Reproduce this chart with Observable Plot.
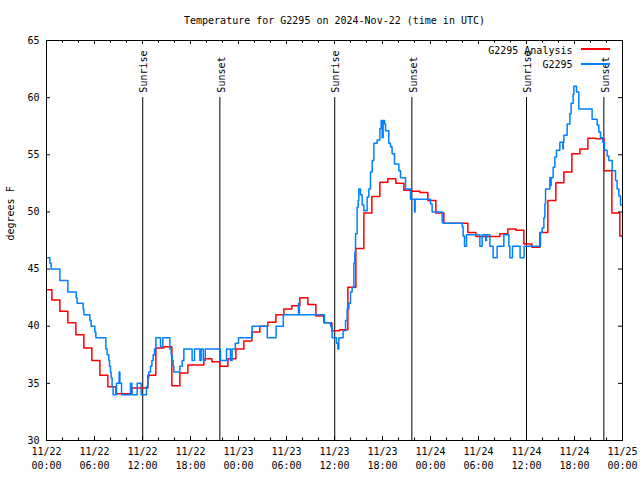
<!DOCTYPE html>
<html><head><meta charset="utf-8">
<script src="https://cdn.jsdelivr.net/npm/d3@7"></script>
<script src="https://cdn.jsdelivr.net/npm/@observablehq/plot@0.6"></script>
<style>
body{margin:0;background:#fff;}
#wrap{position:relative;width:640px;height:480px;}
.key{position:absolute;left:581px;width:29px;height:1.5px;z-index:2;}
</style></head><body>
<div id="wrap"></div>
<script>
const chartTitle = "Temperature for G2295 on 2024-Nov-22 (time in UTC)";
const yLabel = "degrees F";
const seriesNames = ["G2295 Analysis", "G2295"];
const seriesColors = ["#ff0000", "#0080ff"];

const xTickHours = [0, 6, 12, 18, 24, 30, 36, 42, 48, 54, 60, 66, 72];
const xTickDates = ["11/22","11/22","11/22","11/22","11/23","11/23","11/23","11/23","11/24","11/24","11/24","11/24","11/25"];
const xTickTimes = ["00:00","06:00","12:00","18:00","00:00","06:00","12:00","18:00","00:00","06:00","12:00","18:00","00:00"];
const xMinorHours = [2,4,8,10,14,16,20,22,26,28,32,34,38,40,44,46,50,52,56,58,62,64,68,70];
const yTicks = [30, 35, 40, 45, 50, 55, 60, 65];

const sunTimes = [12.03, 21.67, 36.03, 45.67, 60.0, 69.67];
const sunLabels = ["Sunrise", "Sunset", "Sunrise", "Sunset", "Sunrise", "Sunset"];
const sunLineTop = 60;

// hourly analysis values; first value starts at this hour offset
const analysisStart = -0.33;
const analysisValues = [
  43.2, 42.3, 41.3, 40.3, 39.25, 38.1, 37.0, 35.7, 34.7, 34.1, 34.1, 34.6,
  34.6, 35.7, 38.1, 38.2, 34.8, 35.9, 36.6, 36.6, 37.15, 36.9, 36.5, 37.15,
  38.0, 38.7, 39.5, 40.0, 40.35, 41.0, 41.5, 41.8, 42.5, 41.9, 40.9, 40.3,
  39.6, 39.7, 43.4, 46.8, 49.9, 51.35, 52.6, 52.9, 52.5, 51.9, 51.8, 51.7,
  51.0, 49.9, 49.0, 49.0, 49.0, 48.2, 47.85, 47.85, 47.85, 48.1, 48.5, 48.4,
  47.2, 46.9, 48.2, 51.0, 52.55, 53.5, 55.1, 55.5, 56.45, 56.4, 53.6, 49.9, 47.9
];

// observation change points (hours since 11/22 00:00)
const obsTimes = [
  0, 0.42, 0.58, 1.67, 2.67, 3.71, 3.83, 4.58, 4.67, 5.42, 5.58, 6.04, 6.17, 7.42, 7.58, 7.79, 7.88, 8.0, 8.08, 8.2, 8.33,
  8.75, 9.08, 9.17, 9.38, 10.5, 10.67, 11.33, 11.83, 12.5, 12.67, 12.79, 13.0, 13.17, 13.33, 13.5, 13.67, 14.25, 14.54,
  15.42, 15.58, 15.71, 15.83, 15.92, 16.67, 16.96, 17.17, 18.2, 18.5, 19.17, 19.33, 19.6, 19.85, 21.75, 22.5, 23.0, 23.2,
  23.6, 24.0, 25.7, 27.6, 28.7, 29.6, 31.5, 31.6, 34.75, 35.5, 35.7, 36.25, 36.42, 36.54, 37.08, 37.38, 37.58, 37.8,
  38.0, 38.2, 38.42, 38.54, 38.63, 38.83, 38.96, 39.04, 39.25, 39.46, 39.67, 40.08, 40.29, 40.5, 40.71, 40.92, 41.33,
  41.67, 41.83, 41.96, 42.08, 42.25, 42.38, 42.79, 43.0, 43.2, 43.5, 44.04, 44.25, 44.88, 45.5, 46.0, 46.08, 48.0, 48.2,
  49.46, 49.58, 51.96, 52.08, 52.25, 52.5, 54.17, 54.46, 54.9, 55.0, 55.42, 55.83, 56.33, 57.17, 57.8, 57.92, 58.25,
  59.2, 59.7, 61.75, 61.96, 62.17, 62.29, 62.38, 62.92, 63.0, 63.08, 63.33, 63.54, 63.75, 64.17, 64.55, 64.6, 64.67,
  65.08, 65.42, 65.58, 65.83, 65.92, 66.25, 66.54, 68.2, 68.83, 69.04, 69.25, 69.54, 69.75, 70.08, 70.29, 70.71,
  71.13, 71.33, 71.54, 71.75, 72.0
];
const obsValues = [
  46.0, 45.5, 45.0, 44.0, 43.0, 42.5, 42.0, 41.5, 41.0, 40.5, 40.0, 39.5, 39.0, 38.0, 37.5, 37.0, 36.5, 36.0, 35.5, 34.7, 34.0,
  35.0, 36.0, 35.0, 34.0, 35.0, 34.0, 35.0, 34.0, 34.7, 35.5, 36.0, 36.5, 37.0, 37.5, 38.0, 39.0, 38.2, 39.0,
  38.0, 37.5, 37.0, 36.5, 36.0, 36.5, 37.0, 38.0, 37.0, 38.0, 37.0, 38.0, 37.0, 38.0, 37.0, 38.0, 37.0, 38.0,
  38.5, 39.0, 40.0, 39.0, 40.0, 41.0, 42.0, 41.0, 40.3, 40.0, 39.0, 38.5, 38.0, 39.0, 39.6, 40.5, 41.5, 42.0,
  43.0, 43.4, 45.5, 46.5, 48.1, 50.4, 51.0, 52.0, 51.5, 50.6, 50.1, 51.3, 52.0, 53.5, 54.5, 56.0, 56.3,
  57.3, 58.0, 56.5, 58.0, 57.7, 57.1, 56.0, 55.7, 55.1, 54.2, 53.6, 53.0, 52.0, 51.1, 50.0, 51.1, 50.7, 50.0,
  49.1, 49.0, 48.7, 47.9, 47.0, 48.0, 47.0, 48.0, 47.5, 48.0, 47.0, 46.0, 47.0, 48.0, 47.0, 46.0, 47.0,
  46.0, 47.0, 48.2, 48.6, 49.5, 50.7, 52.0, 53.0, 52.3, 53.0, 53.9, 54.8, 55.4, 56.1, 55.5, 56.1, 56.7,
  57.7, 58.6, 59.5, 60.3, 61.0, 60.5, 59.0, 58.1, 57.6, 57.0, 56.5, 56.1, 55.4, 54.9, 54.5, 53.6,
  52.75, 52.0, 51.4, 50.6, 50.6
];

const analysis = analysisValues.map((v, i) => ({t: analysisStart + i, v}));
analysis.push({t: 72, v: analysisValues[analysisValues.length - 1]});
const obs = obsTimes.map((t, i) => ({t, v: obsValues[i]}));
const sun = sunTimes.map((t, i) => ({t, label: sunLabels[i]}));

const W = 640, H = 480, mL = 46, mR = 18, mT = 40, mB = 40;
const fw = W - mL - mR, fh = H - mT - mB;

const plot = Plot.plot({
  width: W, height: H,
  marginLeft: mL, marginRight: mR, marginTop: mT, marginBottom: mB,
  x: {domain: [0, 72], axis: null},
  y: {domain: [30, 65], axis: null},
  style: {fontFamily: "'DejaVu Sans Mono', monospace", fontSize: "10px", color: "black", background: "white"},
  marks: [
    Plot.ruleX(sun, {x: "t", y1: 30, y2: sunLineTop, stroke: "black", strokeWidth: 1}),
    Plot.text(sun, {x: "t", y: sunLineTop, text: "label", rotate: -90, textAnchor: "start", dy: -5, dx: 1.5, fill: "black"}),
    Plot.line(analysis, {x: "t", y: "v", curve: "step-after", stroke: seriesColors[0], strokeWidth: 1.5, clip: true}),
    Plot.line(obs, {x: "t", y: "v", curve: "step-after", stroke: seriesColors[1], strokeWidth: 1.5, clip: true}),
    // ticks (inward, mirrored)
    Plot.tickX(xTickHours, {x: d => d, insetTop: fh - 4, stroke: "black"}),
    Plot.tickX(xTickHours, {x: d => d, insetBottom: fh - 4, stroke: "black"}),
    Plot.tickX(xMinorHours, {x: d => d, insetTop: fh - 2.5, stroke: "black"}),
    Plot.tickX(xMinorHours, {x: d => d, insetBottom: fh - 2.5, stroke: "black"}),
    Plot.tickY(yTicks, {y: d => d, insetRight: fw - 4, stroke: "black"}),
    Plot.tickY(yTicks, {y: d => d, insetLeft: fw - 4, stroke: "black"}),
    Plot.frame({stroke: "black", strokeWidth: 1, shapeRendering: "crispEdges"}),
    // tick labels
    Plot.text(yTicks, {y: d => d, text: d => String(d), frameAnchor: "left", textAnchor: "end", dx: -7, dy: 0, fill: "black"}),
    Plot.text(xTickHours, {x: d => d, text: (d, i) => xTickDates[i], frameAnchor: "bottom", dy: 14, fill: "black"}),
    Plot.text(xTickHours, {x: d => d, text: (d, i) => xTickTimes[i], frameAnchor: "bottom", dy: 28, fill: "black"}),
    // title and y label
    Plot.text([chartTitle], {text: d => d, frameAnchor: "top", dy: -24, fill: "black"}),
    Plot.text([yLabel], {text: d => d, frameAnchor: "left", rotate: -90, dx: -36, fill: "black"}),
    // legend labels
    Plot.text([seriesNames[0]], {text: d => d, frameAnchor: "top-right", textAnchor: "end", dx: -50, dy: 6, fill: "black"}),
    Plot.text([seriesNames[1]], {text: d => d, frameAnchor: "top-right", textAnchor: "end", dx: -50, dy: 20.5, fill: "black"})
  ]
});
const wrap = document.getElementById("wrap");
wrap.appendChild(plot);
seriesColors.forEach((c, i) => {
  const k = document.createElement("div");
  k.className = "key";
  k.style.top = (48 + i * 15) + "px";
  k.style.background = c;
  wrap.appendChild(k);
});
</script>
</body></html>
